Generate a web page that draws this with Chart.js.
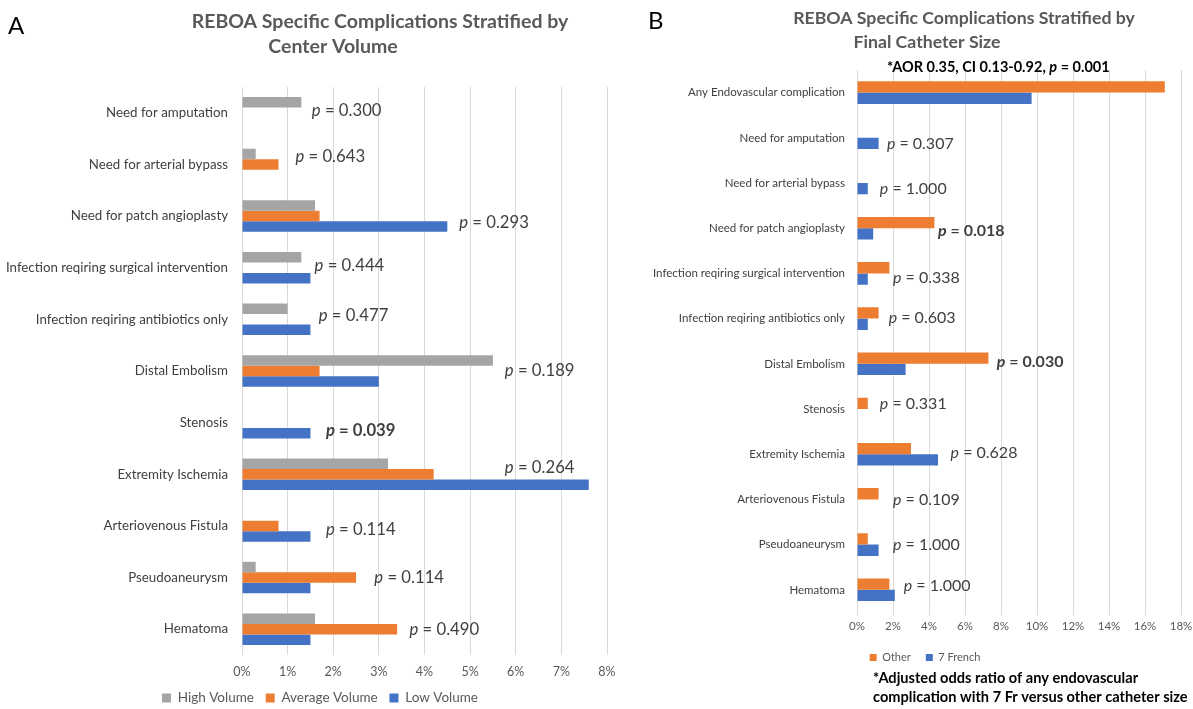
<!DOCTYPE html>
<html>
<head>
<meta charset="utf-8">
<script src="https://cdn.jsdelivr.net/npm/chart.js@4.4.0/dist/chart.umd.min.js"></script>
<style>
  body { margin: 0; background: #fff; overflow: hidden; }
  #wrapA { position: absolute; left: 0; top: 0; width: 640px; height: 709px; }
  #wrapB { position: absolute; left: 600px; top: 0; width: 650px; height: 709px; }
</style>
</head>
<body>
<div id="wrapA"><canvas id="chartA" width="640" height="709"></canvas></div>
<div id="wrapB"><canvas id="chartB" width="650" height="709"></canvas></div>
<script>
// ---- panel A data (percent) ----
const volumeCategories = ['Need for amputation', 'Need for arterial bypass', 'Need for patch angioplasty',
  'Infection reqiring surgical intervention', 'Infection reqiring antibiotics only', 'Distal Embolism',
  'Stenosis', 'Extremity Ischemia', 'Arteriovenous Fistula', 'Pseudoaneurysm', 'Hematoma'];
const highVolume = [1.3, 0.3, 1.6, 1.3, 1.0, 5.5, null, 3.2, null, 0.3, 1.6];
const averageVolume = [null, 0.8, 1.7, null, null, 1.7, null, 4.2, 0.8, 2.5, 3.4];
const lowVolume = [null, null, 4.5, 1.5, 1.5, 3.0, 1.5, 7.6, 1.5, 1.5, 1.5];
const volumePValues = ['0.300', '0.643', '0.293', '0.444', '0.477', '0.189', '0.039', '0.264', '0.114', '0.114', '0.490'];
const volumePBold = [false, false, false, false, false, false, true, false, false, false, false];
const volumeTicks = [0, 1, 2, 3, 4, 5, 6, 7, 8];

// ---- panel B data (percent) ----
const catheterCategories = ['Any Endovascular complication', 'Need for amputation', 'Need for arterial bypass',
  'Need for patch angioplasty', 'Infection reqiring surgical intervention', 'Infection reqiring antibiotics only',
  'Distal Embolism', 'Stenosis', 'Extremity Ischemia', 'Arteriovenous Fistula', 'Pseudoaneurysm', 'Hematoma'];
const otherSize = [17.1, null, null, 4.3, 1.8, 1.2, 7.3, 0.6, 3.0, 1.2, 0.6, 1.8];
const french7 = [9.7, 1.2, 0.6, 0.9, 0.6, 0.6, 2.7, null, 4.5, null, 1.2, 2.1];
const catheterPValues = [null, '0.307', '1.000', '0.018', '0.338', '0.603', '0.030', '0.331', '0.628', '0.109', '1.000', '1.000'];
const catheterPBold = [false, false, false, true, false, false, true, false, false, false, false, false];
const catheterTicks = [0, 2, 4, 6, 8, 10, 12, 14, 16, 18];

// where the p labels sit: x in axis percent, y as pixel shift from the category centre
const volumePAt = [1.53, 1.17, 4.76, 1.59, 1.68, 5.76, 1.84, 5.76, 1.84, 2.9, 3.67];
const volumePDy = [-2, -8, 7, -2, -4, 0, 8, -7, 4, 0, 0];
const catheterPAt = [null, 1.66, 1.27, 4.5, 2.0, 1.76, 7.77, 1.27, 5.2, 2.0, 2.0, 2.6];
const catheterPDy = [0, 6, 6, 3, 4, -1, -2, -5, -1, 0, 0, -4];

const GRAY = '#A5A5A5', ORANGE = '#ED7D31', BLUE = '#4472C4';
const FONT = 'Lato';

function drawP(ctx, x, y, val, size, bold) {
  const w = bold ? 'bold ' : '';
  ctx.textAlign = 'left';
  ctx.textBaseline = 'middle';
  ctx.font = 'italic ' + w + size + 'px ' + FONT;
  ctx.fillText('p', x, y);
  const dx = ctx.measureText('p').width;
  ctx.font = w + size + 'px ' + FONT;
  ctx.fillText(' = ' + val, x + dx, y);
}

function text(ctx, str, x, y, font, color, align) {
  ctx.font = font;
  ctx.fillStyle = color;
  ctx.textAlign = align || 'center';
  ctx.textBaseline = 'middle';
  ctx.fillText(str, x, y);
}

const notesA = {
  id: 'notesA',
  afterDraw(chart) {
    const { ctx } = chart;
    const xs = chart.scales.x, ys = chart.scales.y;
    ctx.save();
    text(ctx, 'A', 8, 26, '24px ' + FONT, '#000', 'left');
    text(ctx, 'REBOA Specific Complications Stratified by', 380, 22, 'bold 19.5px ' + FONT, '#595959');
    text(ctx, 'Center Volume', 333, 47, 'bold 19.5px ' + FONT, '#595959');
    ctx.fillStyle = '#404040';
    volumePValues.forEach((v, i) => {
      drawP(ctx, xs.getPixelForValue(volumePAt[i]), ys.getPixelForValue(i) + volumePDy[i], v, 16.7, volumePBold[i]);
    });
    ctx.restore();
  }
};

// canvas B starts 600px from the page edge
const notesB = {
  id: 'notesB',
  afterDraw(chart) {
    const { ctx } = chart;
    const xs = chart.scales.x, ys = chart.scales.y;
    ctx.save();
    text(ctx, 'B', 48, 21, '24px ' + FONT, '#000', 'left');
    text(ctx, 'REBOA Specific Complications Stratified by', 364, 18, 'bold 17.7px ' + FONT, '#595959');
    text(ctx, 'Final Catheter Size', 327, 42, 'bold 17.7px ' + FONT, '#595959');

    // AOR note above the first group
    ctx.fillStyle = '#000';
    const parts = [['*AOR 0.35, CI 0.13-0.92, ', 'bold'], ['p', 'italic bold'], [' = 0.001', 'bold']];
    let total = 0;
    parts.forEach(p => { ctx.font = p[1] + ' 14.5px ' + FONT; total += ctx.measureText(p[0]).width; });
    let x = xs.getPixelForValue(7.85) - total / 2;
    const y = ys.getPixelForValue(0) - 25;
    ctx.textAlign = 'left';
    ctx.textBaseline = 'middle';
    parts.forEach(p => {
      ctx.font = p[1] + ' 14.5px ' + FONT;
      ctx.fillText(p[0], x, y);
      x += ctx.measureText(p[0]).width;
    });

    ctx.fillStyle = '#404040';
    catheterPValues.forEach((v, i) => {
      if (!v) return;
      drawP(ctx, xs.getPixelForValue(catheterPAt[i]), ys.getPixelForValue(i) + catheterPDy[i], v, 16, catheterPBold[i]);
    });

    text(ctx, '*Adjusted odds ratio of any endovascular', 273, 678, 'bold 14.6px ' + FONT, '#000', 'left');
    text(ctx, 'complication with 7 Fr versus other catheter size', 273, 697, 'bold 14.6px ' + FONT, '#000', 'left');
    ctx.restore();
  }
};

function pct(v) { return v + '%'; }

new Chart(document.getElementById('chartA'), {
  type: 'bar',
  data: {
    labels: volumeCategories,
    datasets: [
      { label: 'High Volume', data: highVolume, backgroundColor: GRAY },
      { label: 'Average Volume', data: averageVolume, backgroundColor: ORANGE },
      { label: 'Low Volume', data: lowVolume, backgroundColor: BLUE }
    ]
  },
  options: {
    indexAxis: 'y',
    responsive: false,
    animation: false,
    events: [],
    datasets: { bar: { categoryPercentage: 0.61, barPercentage: 1.0 } },
    layout: { padding: { top: 87, left: 0, right: 0, bottom: -5.75 } },
    scales: {
      x: {
        min: 0, max: 8,
        afterBuildTicks: s => { s.ticks = volumeTicks.map(v => ({ value: v })); },
        grid: { color: '#D9D9D9', drawTicks: true, tickLength: 9.5, tickColor: 'rgba(0,0,0,0)' },
        border: { display: false },
        ticks: { callback: pct, color: '#595959', font: { family: FONT, size: 12.5 }, padding: 0 }
      },
      y: {
        afterFit: s => { s.width = 242; },
        grid: { display: false, drawTicks: false },
        border: { display: false },
        ticks: { color: '#404040', font: { family: FONT, size: 13.3 }, padding: 14 }
      },
      y2: {
        type: 'category', position: 'right',
        afterFit: s => { s.width = 33; },
        grid: { display: false, drawTicks: false },
        border: { display: false },
        ticks: { display: false }
      }
    },
    plugins: {
      legend: {
        position: 'bottom',
        labels: { boxWidth: 9, boxHeight: 9, padding: 11.75, color: '#595959', font: { family: FONT, size: 13.5 } }
      },
      tooltip: { enabled: false }
    }
  },
  plugins: [notesA]
});

new Chart(document.getElementById('chartB'), {
  type: 'bar',
  data: {
    labels: catheterCategories,
    datasets: [
      { label: 'Other', data: otherSize, backgroundColor: ORANGE },
      { label: '7 French', data: french7, backgroundColor: BLUE }
    ]
  },
  options: {
    indexAxis: 'y',
    responsive: false,
    animation: false,
    events: [],
    datasets: { bar: { categoryPercentage: 0.5, barPercentage: 1.0 } },
    layout: { padding: { top: 70, left: 0, right: 0, bottom: 36 } },
    scales: {
      x: {
        min: 0, max: 18,
        afterBuildTicks: s => { s.ticks = catheterTicks.map(v => ({ value: v })); },
        grid: { color: '#D9D9D9', tickLength: 3 },
        border: { display: false },
        ticks: { callback: pct, color: '#595959', font: { family: FONT, size: 11.5 }, padding: 3.9 }
      },
      y: {
        afterFit: s => { s.width = 257; },
        grid: { display: false, drawTicks: false },
        border: { display: false },
        ticks: { color: '#404040', font: { family: FONT, size: 11.5 }, padding: 12 }
      },
      y2: {
        type: 'category', position: 'right',
        afterFit: s => { s.width = 69; },
        grid: { display: false, drawTicks: false },
        border: { display: false },
        ticks: { display: false }
      }
    },
    plugins: {
      legend: {
        position: 'bottom',
        labels: { boxWidth: 7, boxHeight: 7, padding: 15, color: '#595959', font: { family: FONT, size: 11 } }
      },
      tooltip: { enabled: false }
    }
  },
  plugins: [notesB]
});
</script>
</body>
</html>
